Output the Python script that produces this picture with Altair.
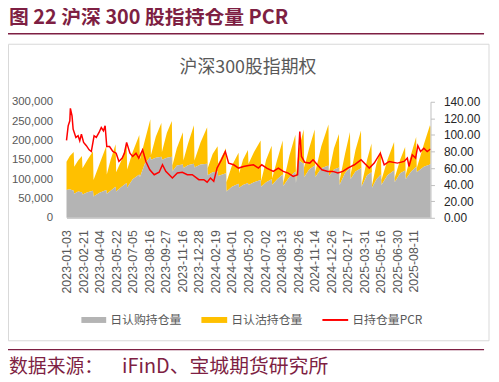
import json
import pandas as pd
import altair as alt

# ---- data ----
# x position = trading-day index counted from 2023-01-03
tick_labels = ["2023-01-03", "2023-02-21", "2023-04-04", "2023-05-22", "2023-07-05",
               "2023-08-16", "2023-09-27", "2023-11-16", "2023-12-28", "2024-02-19",
               "2024-04-01", "2024-05-20", "2024-07-02", "2024-08-13", "2024-09-26",
               "2024-11-14", "2024-12-26", "2025-02-17", "2025-03-31", "2025-05-16",
               "2025-06-30", "2025-08-11"]

area_idx = [0, 6, 13, 14, 21, 28, 29, 38, 48, 49,
            60, 72, 73, 80, 89, 90, 100, 109, 110, 120,
            132, 133, 142, 152, 153, 162, 172, 173, 182, 191,
            192, 200, 211, 212, 220, 231, 232, 243, 255, 256,
            265, 274, 275, 289, 290, 300, 312, 313, 320, 329,
            330, 340, 352, 353, 362, 372, 373, 382, 392, 393,
            404, 415, 416, 421, 430, 431, 440, 450, 451, 462,
            475, 476, 485, 494, 495, 505, 514, 515, 524, 534,
            535, 545, 553, 554, 562, 570, 571, 582, 594, 595,
            605, 614, 615, 625, 634, 635, 648, 659, 660]

# daily call open interest, thousand contracts
call_k = [72, 74, 70, 62, 68, 66, 60, 66, 70, 55,
          65, 72, 62, 70, 80, 68, 80, 90, 78, 100,
          112, 105, 140, 158, 150, 155, 158, 150, 155, 158,
          120, 135, 138, 128, 136, 140, 130, 138, 140, 110,
          118, 120, 108, 115, 68, 80, 88, 78, 85, 90,
          85, 92, 98, 80, 92, 100, 85, 100, 112, 82,
          105, 120, 90, 149, 140, 105, 125, 135, 105, 128,
          135, 108, 125, 130, 85, 115, 130, 100, 120, 128,
          80, 110, 118, 78, 100, 112, 85, 110, 122, 92,
          115, 122, 100, 120, 132, 118, 132, 138, 140]

# daily put open interest, thousand contracts
put_k = [73, 86, 100, 70, 80, 94, 68, 84, 102, 43,
         75, 113, 50, 80, 110, 50, 70, 102, 47, 70,
         102, 45, 60, 97, 12, 55, 87, 20, 65, 92,
         15, 45, 83, 20, 54, 99, 18, 57, 94, 18,
         47, 65, 32, 65, 24, 55, 80, 37, 65, 85,
         55, 78, 102, 15, 58, 86, 17, 50, 88, 8,
         55, 95, 20, 26, 88, 25, 55, 93, 13, 57,
         106, 10, 55, 87, 11, 50, 92, 11, 55, 98,
         5, 40, 74, 7, 40, 63, 13, 40, 74, 11,
         35, 61, 11, 45, 77, 10, 58, 101, 95]

pcr_idx = [0, 3, 6, 7, 10, 12, 17, 21, 24, 27,
           31, 36, 41, 45, 50, 54, 59, 63, 67, 70,
           73, 78, 84, 90, 95, 101, 105, 109, 115, 120,
           126, 131, 138, 144, 151, 159, 168, 174, 180, 192,
           201, 210, 219, 228, 240, 249, 255, 261, 267, 273,
           281, 288, 294, 303, 312, 321, 330, 339, 348, 354,
           363, 375, 384, 393, 402, 411, 419, 421, 423, 426,
           432, 441, 447, 456, 463, 474, 483, 492, 501, 510,
           522, 534, 543, 549, 558, 569, 576, 585, 600, 612,
           618, 621, 627, 633, 637, 642, 648, 654, 660]

pcr_vals = [93.5, 111, 117, 132, 123, 107, 97, 99, 93, 101,
            91, 87, 82, 80, 99, 97, 103, 109, 105, 111,
            86, 86, 80, 78, 68, 72, 78, 91, 78, 74,
            78, 72, 82, 68, 58, 52, 55, 64, 56, 48,
            54, 55, 52, 52, 46, 46, 43, 48, 44, 60,
            70, 80, 66, 64, 60, 62, 63, 64, 60, 64,
            60, 56, 60, 56, 54, 50, 52, 80, 104, 74,
            67, 66, 70, 63, 58, 56, 56, 54, 56, 60,
            64, 70, 64, 60, 66, 78, 64, 68, 66, 68,
            72, 62, 76, 72, 87, 80, 84, 80, 83]

left_ticks = [0, 50000, 100000, 150000, 200000, 250000, 300000]
right_ticks = [0, 20, 40, 60, 80, 100, 120, 140]

area_df = pd.DataFrame({"i": area_idx,
                        "call": [v * 1000 for v in call_k],
                        "put": [v * 1000 for v in put_k]})
pcr_df = pd.DataFrame({"i": pcr_idx, "pcr": pcr_vals})
dummy = pd.DataFrame({"a": [0]})

# ---- styling ----
W, H = 367, 117
MAROON = "#7E1F43"
GREY_TXT = "#595959"
CJK = "Noto Sans CJK SC"
LAT = "Liberation Sans"

x_scale = alt.Scale(domain=[0, 660], nice=False, zero=False)
yl_scale = alt.Scale(domain=[0, 300000], nice=False)
yr_scale = alt.Scale(domain=[0, 140], nice=False)

label_expr = json.dumps(tick_labels) + "[round(datum.value / 30)]"
x_axis = alt.Axis(values=list(range(0, 631, 30)), labelExpr=label_expr, labelAngle=-90,
                  labelOverlap=False, labelFlush=False, ticks=False, tickSize=0,
                  labelPadding=12, domainColor="#BFBFBF", labelColor=GREY_TXT,
                  labelFont=LAT, labelFontSize=12.5, grid=False, title=None)
left_axis = alt.Axis(values=left_ticks, format=",d", domain=False, ticks=False,
                     labelPadding=14, labelColor=GREY_TXT, labelFont=LAT,
                     labelFontSize=11.5, grid=False, title=None)
right_axis = alt.Axis(orient="right", values=right_ticks, format=".2f", domain=True,
                      domainColor="#BFBFBF", ticks=True, tickColor="#BFBFBF", tickSize=4,
                      labelPadding=9, labelColor="#262626", labelFont=LAT,
                      labelFontSize=12, grid=False, title=None, zindex=1)

X = alt.X("i:Q", scale=x_scale, axis=x_axis)

gray = alt.Chart(area_df).mark_area(color="#B4B4B4", opacity=1).encode(
    x=X,
    y=alt.Y("call:Q", scale=yl_scale, axis=left_axis),
)
orange = alt.Chart(area_df).transform_calculate(
    total="datum.call + datum.put"
).mark_area(color="#FFC000", opacity=1).encode(
    x=X,
    y=alt.Y("total:Q", scale=yl_scale, axis=None),
    y2="call:Q",
)
line = alt.Chart(pcr_df).mark_line(color="#FF0000", strokeWidth=1.5).encode(
    x=X,
    y=alt.Y("pcr:Q", scale=yr_scale, axis=right_axis),
)


def txt(text, x, y, size, color, weight="normal", align="left", font=CJK):
    return alt.Chart(dummy).mark_text(
        text=text, align=align, baseline="middle", fontSize=size, color=color,
        fontWeight=weight, font=font
    ).encode(x=alt.value(x), y=alt.value(y))


def hrule(x1, x2, y, color, w):
    return alt.Chart(dummy).mark_rule(color=color, strokeWidth=w).encode(
        x=alt.value(x1), x2=alt.value(x2), y=alt.value(y))


def box(x1, x2, y1, y2, **kw):
    return alt.Chart(dummy).mark_rect(**kw).encode(
        x=alt.value(x1), x2=alt.value(x2), y=alt.value(y1), y2=alt.value(y2))


border = box(-58.5, 426, -58, 241, fillOpacity=0, stroke="#D9D9D9", strokeWidth=1)
header = txt("图 22 沪深 300 股指持仓量 PCR", -58, -84, 20, MAROON, weight="bold")
header_rule = hrule(-59, 421, -68.7, MAROON, 1.5)
title = txt("沪深300股指期权", 183, -34, 18, GREY_TXT, align="center")
leg1 = box(15, 40, 217, 223, color="#B4B4B4")
leg1t = txt("日认购持仓量", 44, 220, 12, GREY_TXT)
leg2 = box(136, 162, 217, 223, color="#FFC000")
leg2t = txt("日认沽持仓量", 166, 220, 12, GREY_TXT)
leg3 = hrule(258, 284, 220, "#FF0000", 2)
leg3t = txt("日持仓量PCR", 288, 220, 12, GREY_TXT)
footer_rule = hrule(-59, 421, 250, MAROON, 1.2)
footer1 = txt("数据来源：", -58, 267, 19, MAROON)
footer2 = txt("iFinD、宝城期货研究所", 56, 267, 20, MAROON)

chart = alt.layer(
    border, orange, gray, line,
    header, header_rule, title,
    leg1, leg1t, leg2, leg2t, leg3, leg3t,
    footer_rule, footer1, footer2,
).resolve_scale(y="independent").properties(
    width=W, height=H,
    autosize=alt.AutoSizeParams(type="none"),
    padding={"left": 59, "top": 93, "right": 61, "bottom": 164},
).configure_view(stroke=None)

chart.save("out.html", embed_options={"renderer": "svg", "actions": False})
